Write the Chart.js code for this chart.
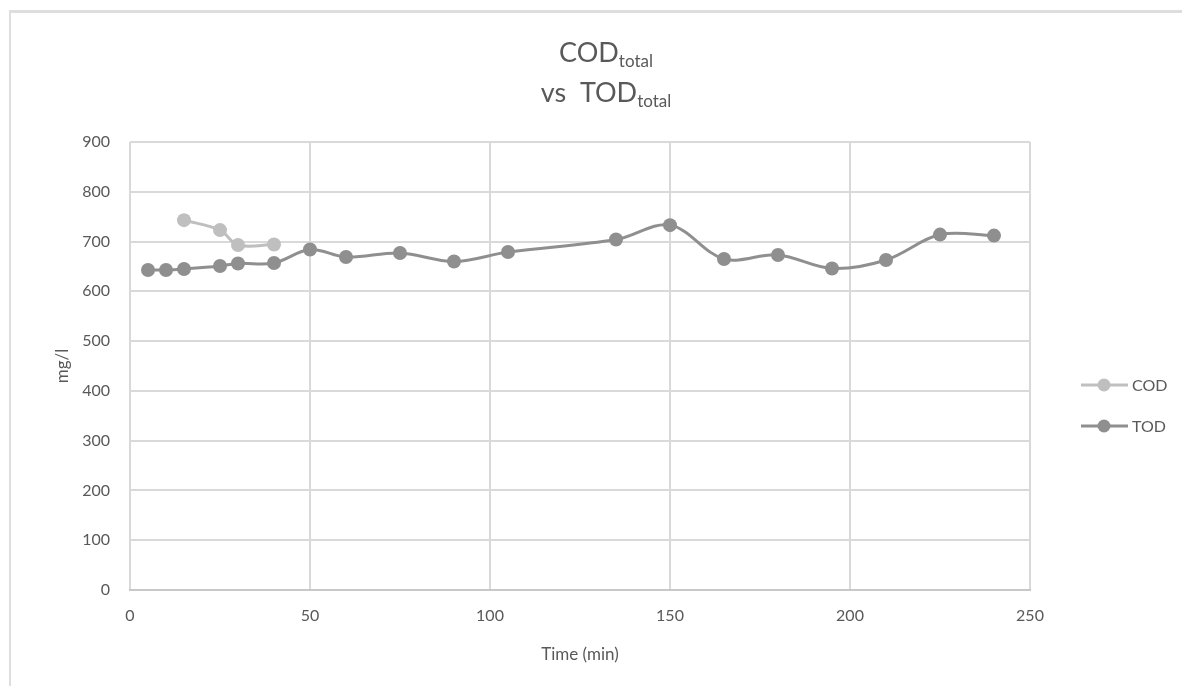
<!DOCTYPE html>
<html>
<head>
<meta charset="utf-8">
<script src="https://cdn.jsdelivr.net/npm/chart.js@4/dist/chart.umd.min.js"></script>
<style>
  html, body { margin: 0; padding: 0; background: #fff; overflow: hidden; }
  #frame {
    position: absolute; left: 9px; top: 10px; width: 1200px; height: 700px;
    border-top: 3px solid #dedede; border-left: 2px solid #dedede;
  }
  #wrap { position: absolute; left: 0; top: 0; width: 1182px; height: 686px; }
</style>
</head>
<body>
<div id="frame"></div>
<div id="wrap"><canvas id="chart"></canvas></div>
<script>
// data
const codTimes = [15, 25, 30, 40];
const codValues = [743, 723, 693, 694];
const todTimes = [5, 10, 15, 25, 30, 40, 50, 60, 75, 90, 105, 135, 150, 165, 180, 195, 210, 225, 240];
const todValues = [643, 643, 645, 651, 656, 657, 684, 669, 677, 660, 679, 704, 733, 665, 673, 646, 663, 714, 712];
const seriesNames = ["COD", "TOD"];
const xTicks = [0, 50, 100, 150, 200, 250];
const yTicks = [0, 100, 200, 300, 400, 500, 600, 700, 800, 900];

const FONT = "Lato, 'Open Sans', sans-serif";
const TEXT = "#595959";
const GRID = "#d9d9d9";
const COLORS = ["#bfbfbf", "#8f8f8f"];

function toPoints(xs, ys) {
  return xs.map((x, i) => ({ x: x, y: ys[i] }));
}

// title with subscripts (Chart.js title can't do them)
const titlePlugin = {
  id: "subTitle",
  afterDraw(chart) {
    const ctx = chart.ctx;
    const cx = 606;
    const lines = [
      { main: "COD", pre: "", y: 62 },
      { main: "TOD", pre: "vs  ", y: 102 },
    ];
    ctx.save();
    ctx.fillStyle = TEXT;
    ctx.textBaseline = "alphabetic";
    ctx.textAlign = "left";
    lines.forEach((l) => {
      ctx.font = "27px " + FONT;
      const wMain = ctx.measureText(l.pre + l.main).width;
      ctx.font = "17px " + FONT;
      const wSub = ctx.measureText("total").width;
      let x = cx - (wMain + wSub) / 2;
      ctx.font = "27px " + FONT;
      ctx.fillText(l.pre + l.main, x, l.y);
      x += wMain;
      ctx.font = "17px " + FONT;
      ctx.fillText("total", x, l.y + 5);
    });
    ctx.restore();
  },
};

// legend on the right: line + marker + name
const legendPlugin = {
  id: "sideLegend",
  afterDraw(chart) {
    const ctx = chart.ctx;
    const ys = [385, 426];
    ctx.save();
    chart.data.datasets.forEach((ds, i) => {
      const y = ys[i];
      ctx.strokeStyle = ds.borderColor;
      ctx.lineWidth = 3;
      ctx.beginPath();
      ctx.moveTo(1081, y);
      ctx.lineTo(1128, y);
      ctx.stroke();
      ctx.fillStyle = ds.borderColor;
      ctx.beginPath();
      ctx.arc(1104, y, 6.5, 0, Math.PI * 2);
      ctx.fill();
      ctx.fillStyle = TEXT;
      ctx.font = "16px " + FONT;
      ctx.textBaseline = "middle";
      ctx.fillText(ds.label, 1132, y + 1);
    });
    ctx.restore();
  },
};

new Chart(document.getElementById("chart"), {
  type: "line",
  data: {
    datasets: [
      {
        label: seriesNames[0],
        data: toPoints(codTimes, codValues),
        borderColor: COLORS[0],
        backgroundColor: COLORS[0],
      },
      {
        label: seriesNames[1],
        data: toPoints(todTimes, todValues),
        borderColor: COLORS[1],
        backgroundColor: COLORS[1],
      },
    ],
  },
  plugins: [titlePlugin, legendPlugin],
  options: {
    responsive: true,
    maintainAspectRatio: false,
    animation: false,
    layout: { padding: { left: 0, right: 152, top: 142, bottom: 0 } },
    elements: {
      line: { borderWidth: 3, tension: 0.35 },
      point: { radius: 7, borderWidth: 0, hoverRadius: 7 },
    },
    scales: {
      x: {
        type: "linear",
        min: 0,
        max: 250,
        afterBuildTicks: (s) => { s.ticks = xTicks.map((v) => ({ value: v })); },
        afterFit: (s) => { s.height = 96; },
        grid: { color: GRID, lineWidth: 2, drawTicks: false },
        border: { color: "#c8c8c8", width: 2 },
        ticks: { color: TEXT, padding: 16, font: { family: FONT, size: 16 } },
        title: {
          display: true,
          text: "Time (min)",
          color: TEXT,
          font: { family: FONT, size: 17 },
          padding: { top: 21, bottom: 21 },
        },
      },
      y: {
        min: 0,
        max: 900,
        afterBuildTicks: (s) => { s.ticks = yTicks.map((v) => ({ value: v })); },
        afterFit: (s) => { s.width = 130; },
        grid: { color: GRID, lineWidth: 2, drawTicks: false },
        border: { display: false },
        ticks: { color: TEXT, padding: 20, font: { family: FONT, size: 16 } },
        title: {
          display: true,
          text: "mg/l",
          color: TEXT,
          font: { family: FONT, size: 17 },
          padding: { top: 52, bottom: 0 },
        },
      },
    },
    plugins: {
      legend: { display: false },
      title: { display: false },
      tooltip: { enabled: false },
    },
  },
});
</script>
</body>
</html>
